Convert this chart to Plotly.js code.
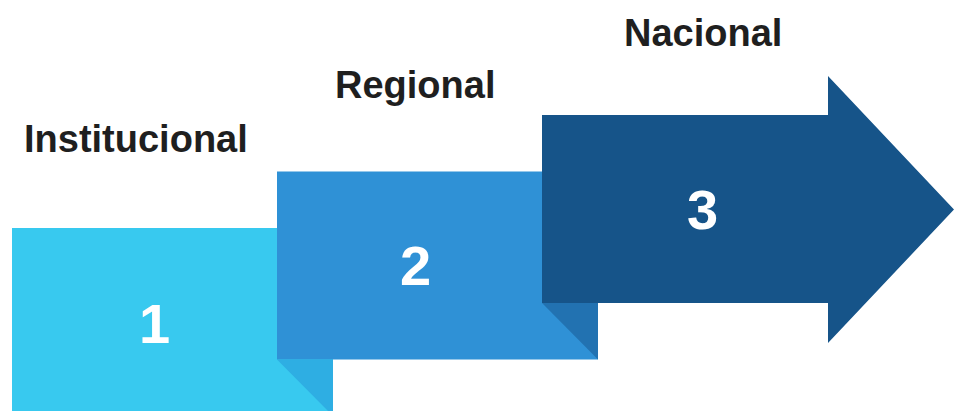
<!DOCTYPE html>
<html>
<head>
<meta charset="utf-8">
<script src="https://cdn.plot.ly/plotly-3.0.1.min.js"></script>
<style>html,body{margin:0;padding:0;background:#fff;}#chart{width:954px;height:411px;}</style>
</head>
<body>
<div id="chart"></div>
<script>
// Data
const levels = ["Institucional", "Regional", "Nacional"];
const stepNumbers = ["1", "2", "3"];

// Styles / layout constants
const boxColors = ["#38C9EF", "#2F91D6", "#165489"];
const foldColors = ["#2EAEE3", "#2272B1"];
const W = 954, H = 411;
const left0 = 12, top0 = 228, dx = 265, dy = 56.5, boxW = 321, boxH = 188;
const arrowBodyRight = 828, arrowHeadTop = 76, arrowHeadBottom = 343, arrowTip = 954;
const numberX = [154, 415, 702];
const numberY = [323, 265, 209];
const labelX = [136, 415, 703];
const labelY = [139, 85, 33];

const shapes = [];
const annotations = [];
levels.forEach((lab, i) => {
  const L = left0 + i * dx, T = top0 - i * dy, B = T + boxH, R = L + boxW;
  let path;
  if (i < levels.length - 1) {
    path = `M${L},${T} L${R},${T} L${R},${B} L${L},${B} Z`;
  } else {
    const mid = (arrowHeadTop + arrowHeadBottom) / 2;
    path = `M${L},${T} L${arrowBodyRight},${T} L${arrowBodyRight},${arrowHeadTop} L${arrowTip},${mid} L${arrowBodyRight},${arrowHeadBottom} L${arrowBodyRight},${B} L${L},${B} Z`;
  }
  shapes.push({type: "path", xref: "x", yref: "y", path: path, fillcolor: boxColors[i], line: {width: 0}, layer: "above"});
  if (i > 0) {
    const pL = left0 + (i - 1) * dx, pR = pL + boxW, pB = top0 - (i - 1) * dy + boxH;
    shapes.push({type: "path", xref: "x", yref: "y", path: `M${L},${B} L${pR},${B} L${pR},${pB} Z`, fillcolor: foldColors[i - 1], line: {width: 0}, layer: "above"});
  }
  annotations.push({x: numberX[i], y: numberY[i], xref: "x", yref: "y", text: "<b>" + stepNumbers[i] + "</b>", showarrow: false, xanchor: "center", yanchor: "middle", font: {family: "Liberation Sans, Arial, sans-serif", size: 56, color: "#FFFFFF"}});
  annotations.push({x: labelX[i], y: labelY[i], xref: "x", yref: "y", text: "<b>" + lab + "</b>", showarrow: false, xanchor: "center", yanchor: "middle", font: {family: "Liberation Sans, Arial, sans-serif", size: 38, color: "#1F1F1F"}});
});

const layout = {
  width: W, height: H,
  margin: {l: 0, r: 0, t: 0, b: 0},
  paper_bgcolor: "#FFFFFF", plot_bgcolor: "#FFFFFF",
  xaxis: {range: [0, W], visible: false, fixedrange: true},
  yaxis: {range: [H, 0], visible: false, fixedrange: true},
  showlegend: false,
  shapes: shapes,
  annotations: annotations
};
Plotly.newPlot("chart", [{x: [], y: [], type: "scatter", mode: "markers", hoverinfo: "skip"}], layout, {displayModeBar: false, staticPlot: true});
</script>
</body>
</html>
